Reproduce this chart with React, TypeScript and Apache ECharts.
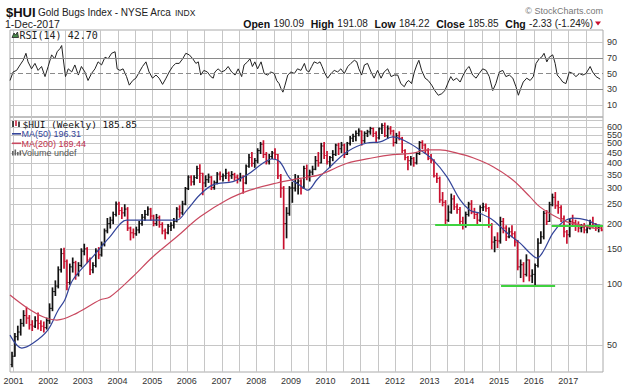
import React, { useEffect, useRef } from 'react';
import * as echarts from 'echarts';

// ---------------- data ----------------
const yearLabels = [2001, 2002, 2003, 2004, 2005, 2006, 2007, 2008, 2009, 2010, 2011, 2012, 2013, 2014, 2015, 2016, 2017];
const priceTickValues = [50, 100, 150, 200, 250, 300, 350, 400, 450, 500, 550, 600, 650];
const rsiTickValues = [10, 30, 50, 70, 90];
const rsiLightLines = [10, 90];
const rsiBandLines = [70, 30];
const rsiMidLine = 50;

const firstBarMonth = 2000 + 11 / 12; // Dec 2000
const firstBarOpen = 40;
// monthly bars: [close, low, high]
const monthlyBars: [number, number, number][] = [
  [44, 39, 46],
  // 2001
  [55, 44, 57], [58, 53, 62], [64, 56, 67], [70, 62, 74], [68, 64, 77], [63, 60, 70], [62, 59, 66], [66, 61, 69], [64, 60, 72], [62, 59, 66], [61, 58, 65], [66, 60, 68],
  // 2002
  [76, 64, 80], [92, 74, 96], [98, 88, 104], [118, 96, 122], [142, 115, 150], [130, 120, 151], [102, 94, 132], [122, 100, 126], [128, 115, 135], [112, 106, 130], [124, 110, 128], [146, 122, 150],
  // 2003
  [150, 140, 158], [132, 128, 152], [118, 112, 135], [124, 114, 128], [146, 122, 150], [140, 134, 152], [158, 138, 162], [184, 155, 188], [200, 180, 212], [208, 190, 215], [222, 200, 228], [250, 218, 256],
  // 2004
  [232, 222, 255], [226, 212, 240], [236, 218, 248], [190, 185, 240], [180, 166, 192], [178, 170, 188], [186, 175, 192], [200, 180, 205], [215, 196, 222], [222, 208, 232], [236, 220, 242], [218, 208, 238],
  // 2005
  [200, 195, 220], [214, 196, 222], [198, 192, 218], [184, 178, 202], [180, 168, 188], [194, 178, 198], [196, 185, 202], [205, 190, 212], [236, 204, 240], [226, 215, 245], [250, 222, 258], [298, 248, 302],
  // 2006
  [340, 295, 345], [322, 310, 345], [338, 312, 345], [375, 335, 385], [355, 320, 392], [318, 278, 355], [330, 305, 345], [340, 320, 352], [302, 295, 342], [320, 296, 325], [352, 315, 358], [342, 330, 360],
  // 2007
  [345, 325, 352], [355, 335, 372], [345, 325, 360], [350, 335, 362], [340, 328, 355], [335, 318, 348], [340, 325, 355], [318, 283, 345], [385, 315, 390], [425, 380, 440], [398, 385, 450], [410, 380, 420],
  // 2008
  [460, 400, 470], [495, 445, 505], [440, 425, 515], [405, 395, 450], [430, 395, 440], [448, 420, 455], [440, 420, 470], [345, 335, 440], [300, 270, 350], [200, 150, 305], [225, 170, 240], [300, 220, 305],
  // 2009
  [300, 255, 320], [320, 290, 350], [325, 280, 345], [300, 280, 330], [375, 300, 385], [345, 330, 390], [360, 325, 368], [372, 350, 385], [410, 370, 430], [400, 385, 450], [485, 400, 500], [435, 420, 505],
  // 2010
  [405, 395, 455], [425, 380, 430], [440, 410, 460], [490, 435, 495], [470, 440, 500], [490, 450, 505], [440, 425, 495], [500, 440, 505], [530, 490, 540], [540, 510, 555], [560, 515, 575], [575, 545, 590],
  // 2011
  [515, 490, 575], [560, 505, 570], [570, 540, 580], [592, 555, 600], [560, 540, 595], [532, 510, 570], [590, 525, 595], [612, 560, 625], [545, 540, 630], [590, 530, 610], [575, 555, 605], [505, 485, 580],
  // 2012
  [545, 500, 560], [530, 520, 570], [460, 450, 535], [425, 415, 465], [410, 370, 430], [420, 390, 430], [400, 385, 425], [445, 395, 450], [505, 440, 510], [490, 470, 515], [460, 445, 495], [420, 415, 470],
  // 2013
  [410, 400, 440], [345, 340, 415], [335, 320, 355], [262, 255, 340], [255, 245, 285], [208, 198, 260], [228, 205, 245], [265, 225, 280], [242, 235, 275], [235, 225, 250], [205, 200, 240], [197, 188, 215],
  // 2014
  [222, 192, 228], [250, 218, 255], [228, 224, 260], [222, 212, 238], [208, 200, 225], [240, 205, 245], [242, 232, 252], [238, 230, 250], [196, 192, 240], [162, 150, 200], [165, 145, 172], [164, 152, 180],
  // 2015
  [205, 160, 215], [190, 180, 212], [172, 165, 195], [182, 170, 190], [178, 172, 195], [162, 155, 182], [122, 118, 165], [125, 108, 132], [112, 103, 128], [132, 110, 140], [110, 104, 132], [112, 102, 118],
  // 2016
  [124, 99, 126], [160, 122, 168], [172, 160, 182], [225, 168, 230], [205, 198, 232], [248, 205, 255], [270, 245, 280], [245, 238, 285], [240, 225, 258], [212, 205, 245], [182, 172, 218], [176, 160, 185],
  // 2017
  [205, 172, 210], [202, 195, 220], [195, 185, 208], [190, 182, 204], [192, 182, 198], [186, 180, 200], [190, 180, 195], [202, 188, 208], [196, 192, 215], [190, 185, 200], [190.09, 182, 196],
  [185.85, 184.22, 191.08],
];

// RSI(14) readings: [decimal year, value]
const rsiPoints: [number, number][] = [
  [2000.90, 41], [2000.99, 52], [2001.09, 54], [2001.19, 61], [2001.28, 67], [2001.36, 76], [2001.42, 65], [2001.52, 56], [2001.62, 63], [2001.71, 54], [2001.81, 59], [2001.91, 46],
  [2002.00, 59], [2002.10, 74], [2002.19, 69], [2002.26, 78], [2002.34, 82], [2002.39, 86], [2002.43, 71], [2002.50, 46], [2002.58, 56], [2002.68, 52], [2002.77, 61], [2002.87, 48], [2002.96, 59],
  [2003.06, 52], [2003.15, 41], [2003.25, 50], [2003.35, 56], [2003.44, 65], [2003.54, 61], [2003.64, 71], [2003.73, 69], [2003.83, 76], [2003.93, 78], [2003.99, 56],
  [2004.07, 54], [2004.16, 56], [2004.26, 46], [2004.34, 35], [2004.44, 41], [2004.53, 44], [2004.63, 52], [2004.72, 59], [2004.82, 65], [2004.91, 52],
  [2005.01, 44], [2005.11, 48], [2005.20, 44], [2005.30, 36], [2005.40, 44], [2005.49, 52], [2005.59, 59], [2005.68, 63], [2005.78, 63], [2005.88, 69], [2005.97, 76],
  [2006.07, 74], [2006.17, 69], [2006.26, 63], [2006.33, 65], [2006.40, 48], [2006.49, 54], [2006.59, 52], [2006.69, 46], [2006.76, 44], [2006.81, 52], [2006.90, 56],
  [2007.00, 52], [2007.10, 54], [2007.19, 59], [2007.29, 52], [2007.39, 48], [2007.48, 56], [2007.58, 46], [2007.65, 61], [2007.75, 65], [2007.82, 69], [2007.89, 59], [2007.96, 65],
  [2008.04, 56], [2008.14, 65], [2008.23, 50], [2008.33, 48], [2008.42, 52], [2008.52, 50], [2008.59, 41], [2008.66, 37], [2008.71, 31], [2008.77, 26], [2008.83, 35], [2008.91, 48],
  [2009.00, 52], [2009.10, 50], [2009.19, 56], [2009.29, 54], [2009.39, 63], [2009.45, 54], [2009.52, 52], [2009.60, 59], [2009.67, 65], [2009.77, 63], [2009.84, 65], [2009.90, 59], [2009.98, 50],
  [2010.06, 44], [2010.16, 50], [2010.25, 54], [2010.35, 52], [2010.44, 56], [2010.54, 50], [2010.64, 59], [2010.73, 63], [2010.83, 67], [2010.90, 65], [2010.96, 56],
  [2011.04, 48], [2011.12, 61], [2011.21, 63], [2011.31, 52], [2011.40, 44], [2011.50, 54], [2011.60, 44], [2011.69, 52], [2011.79, 56], [2011.89, 46], [2011.98, 48],
  [2012.08, 48], [2012.17, 37], [2012.27, 33], [2012.34, 39], [2012.40, 41], [2012.48, 37], [2012.56, 52], [2012.63, 61], [2012.69, 67], [2012.77, 54], [2012.87, 44], [2012.96, 41],
  [2013.06, 35], [2013.15, 28], [2013.25, 22], [2013.35, 24], [2013.44, 28], [2013.54, 39], [2013.61, 46], [2013.68, 41], [2013.78, 44], [2013.88, 39], [2013.97, 48],
  [2014.07, 56], [2014.14, 59], [2014.24, 48], [2014.34, 44], [2014.43, 50], [2014.53, 56], [2014.63, 54], [2014.72, 46], [2014.82, 28], [2014.91, 37],
  [2015.01, 52], [2015.11, 54], [2015.20, 46], [2015.30, 48], [2015.40, 44], [2015.49, 33], [2015.56, 22], [2015.63, 31], [2015.70, 39], [2015.80, 44], [2015.90, 41], [2015.99, 46],
  [2016.07, 63], [2016.16, 69], [2016.23, 71], [2016.30, 76], [2016.38, 65], [2016.45, 71], [2016.55, 74], [2016.62, 63], [2016.68, 48], [2016.76, 44], [2016.84, 39], [2016.93, 37],
  [2017.03, 52], [2017.13, 50], [2017.22, 46], [2017.32, 50], [2017.42, 48], [2017.51, 50], [2017.63, 59], [2017.70, 52], [2017.80, 46], [2017.92, 42.7],
];

// MA(50) weekly readings: [decimal year, value]
const ma50Points: [number, number][] = [
  [2000.90, 56], [2001.24, 48.3], [2001.56, 51], [2001.99, 59.3], [2002.28, 74], [2002.48, 83.6], [2002.71, 105], [2003.29, 137], [2003.78, 172],
  [2004.27, 208], [2004.65, 208], [2005.14, 208], [2005.71, 208], [2006.00, 233], [2006.37, 277], [2006.75, 311], [2007.33, 323], [2007.73, 348],
  [2008.19, 398], [2008.45, 418], [2008.68, 405], [2008.97, 335], [2009.26, 310], [2009.49, 293], [2009.75, 330], [2010.04, 369], [2010.62, 454],
  [2011.19, 502], [2011.57, 508], [2011.94, 538], [2012.35, 508], [2012.72, 464], [2013.10, 414], [2013.50, 341], [2013.88, 262], [2014.16, 233],
  [2014.45, 225], [2014.83, 208], [2015.23, 180], [2015.61, 160], [2015.89, 143], [2016.10, 135], [2016.27, 145], [2016.56, 180], [2016.85, 204],
  [2017.14, 213], [2017.54, 208], [2017.83, 197], [2017.92, 196.31],
];

// MA(200) weekly readings: [decimal year, value]
const ma200Points: [number, number][] = [
  [2000.90, 88.5], [2001.39, 76.5], [2001.85, 69], [2002.25, 66.5], [2002.83, 72], [2003.49, 83.6], [2003.78, 86.5], [2004.44, 109], [2005.02, 137],
  [2005.71, 172], [2006.38, 216], [2007.15, 262], [2007.82, 293], [2008.60, 318], [2009.26, 335], [2009.84, 350], [2010.62, 398], [2011.37, 424],
  [2011.94, 439], [2012.52, 447], [2012.92, 464], [2013.30, 464], [2013.79, 447], [2014.25, 424], [2014.83, 383], [2015.40, 329], [2015.89, 272],
  [2016.18, 242], [2016.56, 220], [2016.96, 204], [2017.34, 197], [2017.71, 190], [2017.92, 189.44],
];

// green support lines
const supportStart = [2013.16, 2015.06, 2016.52];
const supportEnd = [2014.79, 2016.62, 2018.0];
const supportValue = [197, 98.4, 195.5];

const lastClose = 185.85;
const lastMa50 = 196.31;
const lastRsi = 42.7;

// ---------------- chart ----------------
const LN = Math.log;
const X_MIN = 2000.9;
const X_MAX = 2018.0;
const P_MIN = 3.6041;
const P_MAX = 6.515;
const R_MIN = -6;
const R_MAX = 106;

const AX_FONT = 'Liberation Sans';
const GRID_COLOR = '#c6c6c6';

function buildOption() {
  const halfYears: number[] = [];
  yearLabels.forEach((y) => { halfYears.push(y, y + 0.5); });
  const priceTicksLn = priceTickValues.map(LN);

  const ohlc = monthlyBars.map((b, i) => {
    const open = i === 0 ? firstBarOpen : monthlyBars[i - 1][0];
    const t = firstBarMonth + (i + 0.5) / 12;
    return [t, LN(open), LN(b[0]), LN(b[1]), LN(b[2])];
  });

  const boxLabel = (text: string, bold: boolean, color: string, border: string) => ({
    show: true,
    position: 'end',
    distance: 2,
    formatter: text,
    color,
    fontFamily: AX_FONT,
    fontSize: 10,
    fontWeight: bold ? 'bold' : 'normal',
    backgroundColor: '#fff',
    borderColor: border,
    borderWidth: 1,
    padding: [1, 2, 0, 2],
  });

  // grid lines drawn through the axes' own scales
  const vGrid = (xi: number, yi: number, yMin: number, yMax: number) => ({
    type: 'custom', xAxisIndex: xi, yAxisIndex: yi, silent: true, z: 1, clip: false,
    data: halfYears.map((v) => [v, (yMin + yMax) / 2]),
    encode: { x: 0, y: 1 },
    renderItem: (params: any, api: any) => {
      const a = api.coord([api.value(0), yMin]);
      const b = api.coord([api.value(0), yMax]);
      const x = Math.round(a[0]) + 0.5;
      return { type: 'line', shape: { x1: x, y1: a[1], x2: x, y2: b[1] }, style: { stroke: GRID_COLOR, lineWidth: 1 } };
    },
  });
  const hGrid = (xi: number, yi: number, vals: number[]) => ({
    type: 'custom', xAxisIndex: xi, yAxisIndex: yi, silent: true, z: 1, clip: false,
    data: vals.map((v) => [(X_MIN + X_MAX) / 2, v]),
    encode: { x: 0, y: 1 },
    renderItem: (params: any, api: any) => {
      const a = api.coord([X_MIN, api.value(1)]);
      const b = api.coord([X_MAX, api.value(1)]);
      const y = Math.round(a[1]) + 0.5;
      return { type: 'line', shape: { x1: a[0], y1: y, x2: b[0], y2: y }, style: { stroke: GRID_COLOR, lineWidth: 1 } };
    },
  });

  const xAxisBase = (gridIndex: number, showLabels: boolean) => ({
    gridIndex,
    type: 'value',
    min: X_MIN,
    max: X_MAX,
    axisLine: { show: false },
    axisTick: { show: false },
    axisLabel: showLabels
      ? { show: true, customValues: yearLabels, formatter: (v: number) => String(Math.round(v)), margin: 4, fontSize: 9, color: '#333', fontFamily: AX_FONT }
      : { show: false },
    splitLine: { show: false },
  });

  return {
    animation: false,
    backgroundColor: '#fff',
    textStyle: { fontFamily: AX_FONT },
    grid: [
      { left: 10, right: 37, top: 30, height: 87, show: true, backgroundColor: 'transparent', borderColor: '#aaa', borderWidth: 1, containLabel: false, outerBoundsMode: 'none' },
      { left: 10, right: 37, top: 117, height: 255, show: true, backgroundColor: 'transparent', borderColor: '#aaa', borderWidth: 1, containLabel: false, outerBoundsMode: 'none' },
    ],
    xAxis: [xAxisBase(0, false), xAxisBase(1, true)],
    yAxis: [
      {
        gridIndex: 0, type: 'value', position: 'right', min: R_MIN, max: R_MAX,
        axisLine: { show: false }, axisTick: { show: false },
        axisLabel: { show: true, customValues: rsiTickValues, margin: 4, fontSize: 9, color: '#333', fontFamily: AX_FONT },
        splitLine: { show: false },
      },
      {
        gridIndex: 1, type: 'value', position: 'right', min: P_MIN, max: P_MAX,
        axisLine: { show: false }, axisTick: { show: false },
        axisLabel: {
          show: true, customValues: priceTicksLn, margin: 4, fontSize: 9, color: '#333', fontFamily: AX_FONT,
          formatter: (v: number) => String(Math.round(Math.exp(v))),
        },
        splitLine: { show: false },
      },
    ],
    series: [
      vGrid(0, 0, R_MIN, R_MAX),
      hGrid(0, 0, rsiLightLines),
      vGrid(1, 1, P_MIN, P_MAX),
      hGrid(1, 1, priceTicksLn),
      {
        type: 'line', name: 'RSI', xAxisIndex: 0, yAxisIndex: 0,
        data: rsiPoints, symbol: 'none', lineStyle: { color: '#222', width: 1 }, z: 3,
        markLine: {
          silent: true, symbol: ['none', 'none'], animation: false,
          data: [
            ...rsiBandLines.map((v) => ({ yAxis: v, lineStyle: { color: '#8a8a8a', width: 1, type: 'solid' }, label: { show: false } })),
            { yAxis: rsiMidLine, lineStyle: { color: '#8a8a8a', width: 1, type: [5, 3] }, label: { show: false } },
            { yAxis: lastRsi, lineStyle: { opacity: 0 }, label: boxLabel('42.70', false, '#222', '#333') },
          ],
        },
      },
      {
        type: 'custom', name: 'HUI', xAxisIndex: 1, yAxisIndex: 1, data: ohlc, clip: true, z: 2,
        encode: { x: 0, y: [1, 2, 3, 4] },
        renderItem: (params: any, api: any) => {
          const t = api.value(0);
          const o = api.value(1);
          const c = api.value(2);
          const l = api.value(3);
          const h = api.value(4);
          const pH = api.coord([t, h]);
          const pL = api.coord([t, l]);
          const pO = api.coord([t, o]);
          const pC = api.coord([t, c]);
          const color = c >= o ? '#111' : '#c8102e';
          return {
            type: 'group',
            children: [
              { type: 'line', shape: { x1: pH[0], y1: pH[1] - 0.5, x2: pL[0], y2: pL[1] + 0.5 }, style: { stroke: color, lineWidth: 1.7 } },
              { type: 'line', shape: { x1: pO[0] - 1.4, y1: pO[1], x2: pO[0], y2: pO[1] }, style: { stroke: color, lineWidth: 1 } },
              { type: 'line', shape: { x1: pC[0], y1: pC[1], x2: pC[0] + 1.4, y2: pC[1] }, style: { stroke: color, lineWidth: 1 } },
            ],
          };
        },
      },
      {
        type: 'line', name: 'MA(50)', xAxisIndex: 1, yAxisIndex: 1,
        data: ma50Points.map(([t, v]) => [t, LN(v)]), smooth: 0.35, symbol: 'none',
        lineStyle: { color: '#34459a', width: 1.2 }, z: 4,
        markLine: {
          silent: true, symbol: ['none', 'none'], animation: false,
          data: [{ yAxis: LN(lastMa50), lineStyle: { opacity: 0 }, label: boxLabel(lastMa50.toFixed(2), false, '#34459a', '#555') }],
        },
      },
      {
        type: 'line', name: 'MA(200)', xAxisIndex: 1, yAxisIndex: 1,
        data: ma200Points.map(([t, v]) => [t, LN(v)]), smooth: 0.35, symbol: 'none',
        lineStyle: { color: '#c9485f', width: 1.2 }, z: 5,
        markLine: {
          silent: true, symbol: ['none', 'none'], animation: false,
          data: [
            ...supportValue.map((v, i) => [
              { coord: [supportStart[i], LN(v)], lineStyle: { color: '#3fd23f', width: 2, type: 'solid' }, label: { show: false } },
              { coord: [supportEnd[i], LN(v)] },
            ]),
            { yAxis: LN(lastClose), lineStyle: { opacity: 0 }, label: boxLabel(lastClose.toFixed(2), true, '#000', '#000') },
          ],
        },
      },
    ],
    graphic: [
      // header
      { type: 'text', x: 6, y: 12, style: { text: '$HUI', font: 'bold 13px "Liberation Sans"', fill: '#111', verticalAlign: 'middle' } },
      { type: 'text', x: 38, y: 12, style: { text: 'Gold Bugs Index - NYSE Arca', font: '10px "Liberation Sans"', fill: '#222', verticalAlign: 'middle' } },
      { type: 'text', x: 175, y: 12.5, style: { text: 'INDX', font: '8.5px "Liberation Sans"', fill: '#222', verticalAlign: 'middle' } },
      { type: 'text', x: 5, y: 23.5, style: { text: '1-Dec-2017', font: '10.5px "Liberation Sans"', fill: '#222', verticalAlign: 'middle' } },
      { type: 'text', x: 603, y: 11, style: { text: '© StockCharts.com', font: '9px "Liberation Sans"', fill: '#777', align: 'right', verticalAlign: 'middle' } },
      {
        type: 'text', x: 593, y: 23.5,
        style: {
          text: '{b|Open} {v|190.09}  {b|High} {v|191.08}  {b|Low} {v|184.22}  {b|Close} {v|185.85}  {b|Chg} {v|-2.33 (-1.24%)}',
          align: 'right', verticalAlign: 'middle',
          rich: {
            b: { font: 'bold 10.5px "Liberation Sans"', fill: '#111' },
            v: { font: '10px "Liberation Sans"', fill: '#222' },
          },
        },
      },
      { type: 'polygon', shape: { points: [[595, 21.5], [601, 21.5], [598, 25.5]] }, style: { fill: '#c8102e' } },
      // RSI label
      { type: 'polygon', z: 20, shape: { points: [[12, 37.5], [14, 33], [15.5, 35], [17.5, 32], [18.5, 37.5]] }, style: { fill: '#4a8a4a', stroke: '#222', lineWidth: 0.8 } },
      { type: 'text', z: 20, x: 19.5, y: 35, style: { text: 'RSI(14) 42.70', font: '10px "DejaVu Sans Mono"', fill: '#222', verticalAlign: 'middle' } },
      // main legend
      { type: 'line', z: 20, shape: { x1: 13, y1: 121, x2: 13, y2: 127 }, style: { stroke: '#111', lineWidth: 1.5 } },
      { type: 'line', z: 20, shape: { x1: 16, y1: 120.5, x2: 16, y2: 126 }, style: { stroke: '#c8102e', lineWidth: 1.5 } },
      { type: 'line', z: 20, shape: { x1: 19, y1: 121.5, x2: 19, y2: 127 }, style: { stroke: '#111', lineWidth: 1.5 } },
      { type: 'text', z: 20, x: 22.5, y: 124, style: { text: '$HUI (Weekly) 185.85', font: '9.5px "DejaVu Sans Mono"', fill: '#111', verticalAlign: 'middle' } },
      { type: 'line', z: 20, shape: { x1: 12, y1: 133.8, x2: 21, y2: 133.8 }, style: { stroke: '#34459a', lineWidth: 1.6 } },
      { type: 'text', z: 20, x: 21.5, y: 134, style: { text: 'MA(50) 196.31', font: '9px "Liberation Sans"', fill: '#34459a', verticalAlign: 'middle' } },
      { type: 'line', z: 20, shape: { x1: 12, y1: 143.3, x2: 21, y2: 143.3 }, style: { stroke: '#c9485f', lineWidth: 1.6 } },
      { type: 'text', z: 20, x: 21.5, y: 143.5, style: { text: 'MA(200) 189.44', font: '9px "Liberation Sans"', fill: '#c2304c', verticalAlign: 'middle' } },
      { type: 'rect', z: 20, shape: { x: 12, y: 151, width: 1.6, height: 4.5 }, style: { fill: '#666' } },
      { type: 'rect', z: 20, shape: { x: 14.5, y: 149.5, width: 1.6, height: 6 }, style: { fill: '#666' } },
      { type: 'rect', z: 20, shape: { x: 17, y: 152, width: 1.6, height: 3.5 }, style: { fill: '#666' } },
      { type: 'rect', z: 20, shape: { x: 19.5, y: 150.5, width: 1.6, height: 5 }, style: { fill: '#666' } },
      { type: 'text', z: 20, x: 21.5, y: 153, style: { text: 'Volume undef', font: '9px "Liberation Sans"', fill: '#555', verticalAlign: 'middle' } },
    ],
  };
}

export default function App() {
  const ref = useRef<HTMLDivElement>(null);
  useEffect(() => {
    const el = ref.current;
    if (!el) return;
    const chart = echarts.init(el, undefined, { renderer: 'svg' });
    chart.setOption(buildOption() as any);
    return () => chart.dispose();
  }, []);
  return <div ref={ref} style={{ position: 'fixed', left: 0, top: 0, width: 640, height: 386, background: '#fff' }} />;
}
